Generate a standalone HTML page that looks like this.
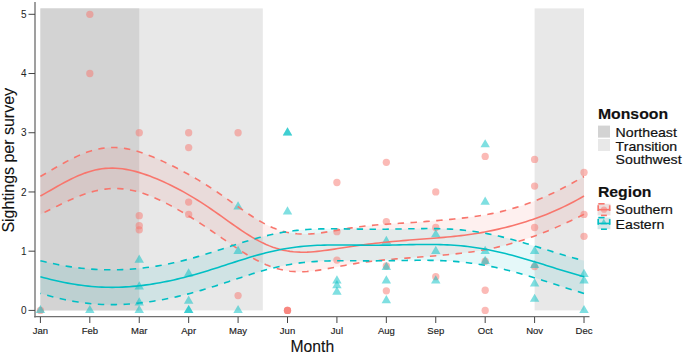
<!DOCTYPE html>
<html><head><meta charset="utf-8"><style>
html,body{margin:0;padding:0;background:#fff;}
svg{display:block;}
</style></head><body>
<svg width="685" height="356" viewBox="0 0 685 356">
<rect x="0" y="0" width="685" height="356" fill="#fff"/>
<rect x="40.40" y="8.38" width="222.39" height="302.02" fill="#E8E8E8"/>
<rect x="40.40" y="8.38" width="98.84" height="302.02" fill="#D3D3D3"/>
<rect x="534.60" y="8.38" width="49.42" height="302.02" fill="#E8E8E8"/>
<path d="M40.40 176.51 L43.82 174.52 L47.24 172.53 L50.66 170.53 L54.08 168.55 L57.49 166.58 L60.91 164.64 L64.33 162.75 L67.75 160.91 L71.17 159.14 L74.59 157.46 L78.01 155.86 L81.43 154.38 L84.85 153.02 L88.26 151.78 L91.68 150.69 L95.10 149.75 L98.52 148.96 L101.94 148.34 L105.36 147.88 L108.78 147.59 L112.20 147.47 L115.62 147.52 L119.03 147.73 L122.45 148.09 L125.87 148.61 L129.29 149.27 L132.71 150.06 L136.13 150.98 L139.55 152.01 L142.97 153.15 L146.38 154.38 L149.80 155.70 L153.22 157.09 L156.64 158.54 L160.06 160.05 L163.48 161.62 L166.90 163.23 L170.32 164.89 L173.74 166.58 L177.15 168.32 L180.57 170.10 L183.99 171.92 L187.41 173.78 L190.83 175.68 L194.25 177.64 L197.67 179.64 L201.09 181.69 L204.51 183.80 L207.92 185.96 L211.34 188.17 L214.76 190.43 L218.18 192.74 L221.60 195.09 L225.02 197.48 L228.44 199.89 L231.86 202.32 L235.28 204.75 L238.69 207.18 L242.11 209.58 L245.53 211.95 L248.95 214.26 L252.37 216.51 L255.79 218.67 L259.21 220.73 L262.63 222.67 L266.05 224.49 L269.46 226.17 L272.88 227.69 L276.30 229.06 L279.72 230.27 L283.14 231.31 L286.56 232.18 L289.98 232.88 L293.40 233.42 L296.82 233.80 L300.23 234.03 L303.65 234.12 L307.07 234.08 L310.49 233.92 L313.91 233.66 L317.33 233.31 L320.75 232.88 L324.17 232.40 L327.58 231.86 L331.00 231.30 L334.42 230.72 L337.84 230.13 L341.26 229.54 L344.68 228.96 L348.10 228.40 L351.52 227.87 L354.94 227.37 L358.35 226.90 L361.77 226.46 L365.19 226.06 L368.61 225.68 L372.03 225.34 L375.45 225.03 L378.87 224.74 L382.29 224.48 L385.71 224.23 L389.12 223.99 L392.54 223.76 L395.96 223.54 L399.38 223.32 L402.80 223.11 L406.22 222.88 L409.64 222.66 L413.06 222.43 L416.48 222.19 L419.89 221.94 L423.31 221.69 L426.73 221.42 L430.15 221.15 L433.57 220.87 L436.99 220.59 L440.41 220.29 L443.83 219.98 L447.25 219.67 L450.66 219.34 L454.08 219.00 L457.50 218.64 L460.92 218.27 L464.34 217.88 L467.76 217.46 L471.18 217.02 L474.60 216.55 L478.02 216.04 L481.43 215.51 L484.85 214.93 L488.27 214.31 L491.69 213.65 L495.11 212.94 L498.53 212.19 L501.95 211.38 L505.37 210.52 L508.78 209.61 L512.20 208.65 L515.62 207.63 L519.04 206.56 L522.46 205.44 L525.88 204.26 L529.30 203.02 L532.72 201.74 L536.14 200.40 L539.55 199.00 L542.97 197.56 L546.39 196.06 L549.81 194.51 L553.23 192.91 L556.65 191.26 L560.07 189.57 L563.49 187.82 L566.91 186.03 L570.32 184.19 L573.74 182.32 L577.16 180.41 L580.58 178.47 L584.00 176.51 L584.00 214.38 L580.58 216.06 L577.16 217.72 L573.74 219.35 L570.32 220.97 L566.91 222.55 L563.49 224.11 L560.07 225.64 L556.65 227.14 L553.23 228.60 L549.81 230.03 L546.39 231.43 L542.97 232.80 L539.55 234.12 L536.14 235.41 L532.72 236.67 L529.30 237.88 L525.88 239.06 L522.46 240.19 L519.04 241.28 L515.62 242.33 L512.20 243.33 L508.78 244.29 L505.37 245.20 L501.95 246.06 L498.53 246.88 L495.11 247.66 L491.69 248.39 L488.27 249.08 L484.85 249.72 L481.43 250.33 L478.02 250.90 L474.60 251.43 L471.18 251.93 L467.76 252.40 L464.34 252.84 L460.92 253.25 L457.50 253.65 L454.08 254.02 L450.66 254.38 L447.25 254.72 L443.83 255.05 L440.41 255.36 L436.99 255.67 L433.57 255.96 L430.15 256.25 L426.73 256.53 L423.31 256.81 L419.89 257.07 L416.48 257.34 L413.06 257.60 L409.64 257.86 L406.22 258.11 L402.80 258.37 L399.38 258.63 L395.96 258.90 L392.54 259.18 L389.12 259.47 L385.71 259.77 L382.29 260.09 L378.87 260.43 L375.45 260.79 L372.03 261.18 L368.61 261.60 L365.19 262.05 L361.77 262.54 L358.35 263.05 L354.94 263.60 L351.52 264.18 L348.10 264.79 L344.68 265.42 L341.26 266.06 L337.84 266.72 L334.42 267.38 L331.00 268.04 L327.58 268.68 L324.17 269.29 L320.75 269.86 L317.33 270.38 L313.91 270.83 L310.49 271.21 L307.07 271.50 L303.65 271.68 L300.23 271.75 L296.82 271.70 L293.40 271.52 L289.98 271.19 L286.56 270.72 L283.14 270.10 L279.72 269.32 L276.30 268.39 L272.88 267.30 L269.46 266.07 L266.05 264.69 L262.63 263.17 L259.21 261.52 L255.79 259.74 L252.37 257.86 L248.95 255.87 L245.53 253.80 L242.11 251.65 L238.69 249.44 L235.28 247.17 L231.86 244.86 L228.44 242.53 L225.02 240.17 L221.60 237.81 L218.18 235.44 L214.76 233.09 L211.34 230.75 L207.92 228.43 L204.51 226.13 L201.09 223.87 L197.67 221.64 L194.25 219.45 L190.83 217.30 L187.41 215.19 L183.99 213.13 L180.57 211.12 L177.15 209.16 L173.74 207.25 L170.32 205.40 L166.90 203.61 L163.48 201.89 L160.06 200.24 L156.64 198.67 L153.22 197.19 L149.80 195.80 L146.38 194.51 L142.97 193.33 L139.55 192.26 L136.13 191.31 L132.71 190.49 L129.29 189.81 L125.87 189.26 L122.45 188.86 L119.03 188.61 L115.62 188.50 L112.20 188.55 L108.78 188.75 L105.36 189.10 L101.94 189.60 L98.52 190.23 L95.10 191.00 L91.68 191.90 L88.26 192.92 L84.85 194.06 L81.43 195.29 L78.01 196.62 L74.59 198.03 L71.17 199.51 L67.75 201.05 L64.33 202.64 L60.91 204.27 L57.49 205.93 L54.08 207.61 L50.66 209.30 L47.24 211.00 L43.82 212.70 L40.40 214.38 Z" fill="#F8766D" fill-opacity="0.11" stroke="none"/>

<path d="M40.40 260.67 L43.82 261.51 L47.24 262.32 L50.66 263.09 L54.08 263.83 L57.49 264.52 L60.91 265.18 L64.33 265.79 L67.75 266.37 L71.17 266.90 L74.59 267.38 L78.01 267.82 L81.43 268.22 L84.85 268.58 L88.26 268.88 L91.68 269.15 L95.10 269.37 L98.52 269.55 L101.94 269.68 L105.36 269.77 L108.78 269.82 L112.20 269.83 L115.62 269.79 L119.03 269.71 L122.45 269.59 L125.87 269.42 L129.29 269.22 L132.71 268.97 L136.13 268.68 L139.55 268.36 L142.97 267.99 L146.38 267.57 L149.80 267.12 L153.22 266.63 L156.64 266.09 L160.06 265.52 L163.48 264.90 L166.90 264.24 L170.32 263.55 L173.74 262.81 L177.15 262.04 L180.57 261.22 L183.99 260.38 L187.41 259.49 L190.83 258.57 L194.25 257.62 L197.67 256.64 L201.09 255.64 L204.51 254.60 L207.92 253.55 L211.34 252.48 L214.76 251.39 L218.18 250.29 L221.60 249.18 L225.02 248.06 L228.44 246.95 L231.86 245.83 L235.28 244.73 L238.69 243.64 L242.11 242.57 L245.53 241.51 L248.95 240.48 L252.37 239.48 L255.79 238.51 L259.21 237.58 L262.63 236.69 L266.05 235.84 L269.46 235.04 L272.88 234.28 L276.30 233.57 L279.72 232.91 L283.14 232.31 L286.56 231.75 L289.98 231.25 L293.40 230.80 L296.82 230.41 L300.23 230.06 L303.65 229.76 L307.07 229.50 L310.49 229.29 L313.91 229.12 L317.33 228.99 L320.75 228.90 L324.17 228.83 L327.58 228.79 L331.00 228.78 L334.42 228.78 L337.84 228.81 L341.26 228.84 L344.68 228.89 L348.10 228.94 L351.52 228.99 L354.94 229.04 L358.35 229.09 L361.77 229.14 L365.19 229.17 L368.61 229.20 L372.03 229.22 L375.45 229.23 L378.87 229.22 L382.29 229.21 L385.71 229.18 L389.12 229.14 L392.54 229.10 L395.96 229.04 L399.38 228.98 L402.80 228.92 L406.22 228.85 L409.64 228.78 L413.06 228.72 L416.48 228.67 L419.89 228.62 L423.31 228.59 L426.73 228.57 L430.15 228.58 L433.57 228.60 L436.99 228.65 L440.41 228.73 L443.83 228.83 L447.25 228.98 L450.66 229.15 L454.08 229.37 L457.50 229.62 L460.92 229.92 L464.34 230.26 L467.76 230.64 L471.18 231.06 L474.60 231.53 L478.02 232.05 L481.43 232.61 L484.85 233.22 L488.27 233.87 L491.69 234.56 L495.11 235.29 L498.53 236.07 L501.95 236.88 L505.37 237.73 L508.78 238.61 L512.20 239.52 L515.62 240.46 L519.04 241.43 L522.46 242.42 L525.88 243.44 L529.30 244.47 L532.72 245.51 L536.14 246.56 L539.55 247.63 L542.97 248.69 L546.39 249.76 L549.81 250.82 L553.23 251.88 L556.65 252.93 L560.07 253.97 L563.49 254.99 L566.91 256.00 L570.32 256.98 L573.74 257.95 L577.16 258.88 L580.58 259.79 L584.00 260.67 L584.00 293.40 L580.58 292.39 L577.16 291.35 L573.74 290.30 L570.32 289.23 L566.91 288.14 L563.49 287.04 L560.07 285.94 L556.65 284.84 L553.23 283.73 L549.81 282.62 L546.39 281.53 L542.97 280.44 L539.55 279.36 L536.14 278.29 L532.72 277.24 L529.30 276.21 L525.88 275.20 L522.46 274.22 L519.04 273.25 L515.62 272.32 L512.20 271.41 L508.78 270.53 L505.37 269.68 L501.95 268.87 L498.53 268.09 L495.11 267.34 L491.69 266.63 L488.27 265.96 L484.85 265.32 L481.43 264.72 L478.02 264.17 L474.60 263.65 L471.18 263.17 L467.76 262.73 L464.34 262.33 L460.92 261.97 L457.50 261.65 L454.08 261.37 L450.66 261.12 L447.25 260.91 L443.83 260.73 L440.41 260.59 L436.99 260.47 L433.57 260.39 L430.15 260.33 L426.73 260.29 L423.31 260.28 L419.89 260.29 L416.48 260.31 L413.06 260.34 L409.64 260.38 L406.22 260.43 L402.80 260.49 L399.38 260.54 L395.96 260.60 L392.54 260.65 L389.12 260.70 L385.71 260.75 L382.29 260.78 L378.87 260.81 L375.45 260.83 L372.03 260.84 L368.61 260.85 L365.19 260.85 L361.77 260.84 L358.35 260.82 L354.94 260.81 L351.52 260.79 L348.10 260.78 L344.68 260.77 L341.26 260.77 L337.84 260.79 L334.42 260.82 L331.00 260.88 L327.58 260.96 L324.17 261.06 L320.75 261.20 L317.33 261.38 L313.91 261.60 L310.49 261.86 L307.07 262.16 L303.65 262.51 L300.23 262.91 L296.82 263.37 L293.40 263.88 L289.98 264.44 L286.56 265.05 L283.14 265.72 L279.72 266.44 L276.30 267.22 L272.88 268.04 L269.46 268.90 L266.05 269.82 L262.63 270.77 L259.21 271.76 L255.79 272.79 L252.37 273.84 L248.95 274.92 L245.53 276.02 L242.11 277.14 L238.69 278.27 L235.28 279.40 L231.86 280.55 L228.44 281.69 L225.02 282.82 L221.60 283.95 L218.18 285.06 L214.76 286.16 L211.34 287.24 L207.92 288.31 L204.51 289.34 L201.09 290.36 L197.67 291.34 L194.25 292.30 L190.83 293.22 L187.41 294.12 L183.99 294.98 L180.57 295.81 L177.15 296.61 L173.74 297.37 L170.32 298.10 L166.90 298.79 L163.48 299.45 L160.06 300.07 L156.64 300.66 L153.22 301.21 L149.80 301.73 L146.38 302.20 L142.97 302.64 L139.55 303.04 L136.13 303.39 L132.71 303.71 L129.29 303.98 L125.87 304.21 L122.45 304.39 L119.03 304.52 L115.62 304.61 L112.20 304.65 L108.78 304.63 L105.36 304.56 L101.94 304.44 L98.52 304.27 L95.10 304.04 L91.68 303.76 L88.26 303.42 L84.85 303.03 L81.43 302.58 L78.01 302.07 L74.59 301.52 L71.17 300.91 L67.75 300.25 L64.33 299.54 L60.91 298.78 L57.49 297.98 L54.08 297.14 L50.66 296.25 L47.24 295.34 L43.82 294.38 L40.40 293.40 Z" fill="#00BFC4" fill-opacity="0.1" stroke="none"/>

<circle cx="40.40" cy="310.40" r="3.65" fill="#F8766D" fill-opacity="0.5"/>
<circle cx="89.82" cy="14.30" r="3.65" fill="#F8766D" fill-opacity="0.5"/>
<circle cx="89.82" cy="73.52" r="3.65" fill="#F8766D" fill-opacity="0.5"/>
<circle cx="139.24" cy="132.74" r="3.65" fill="#F8766D" fill-opacity="0.5"/>
<circle cx="139.24" cy="215.65" r="3.65" fill="#F8766D" fill-opacity="0.5"/>
<circle cx="139.24" cy="225.72" r="3.65" fill="#F8766D" fill-opacity="0.5"/>
<circle cx="139.24" cy="229.86" r="3.65" fill="#F8766D" fill-opacity="0.5"/>
<circle cx="188.66" cy="132.74" r="3.65" fill="#F8766D" fill-opacity="0.5"/>
<circle cx="188.66" cy="147.54" r="3.65" fill="#F8766D" fill-opacity="0.5"/>
<circle cx="188.66" cy="202.03" r="3.65" fill="#F8766D" fill-opacity="0.5"/>
<circle cx="188.66" cy="214.46" r="3.65" fill="#F8766D" fill-opacity="0.5"/>
<circle cx="238.08" cy="132.74" r="3.65" fill="#F8766D" fill-opacity="0.5"/>
<circle cx="238.08" cy="295.59" r="3.65" fill="#F8766D" fill-opacity="0.5"/>
<circle cx="287.50" cy="310.40" r="3.65" fill="#F8766D" fill-opacity="0.5"/>
<circle cx="287.50" cy="310.40" r="3.65" fill="#F8766D" fill-opacity="0.5"/>
<circle cx="287.50" cy="310.40" r="3.65" fill="#F8766D" fill-opacity="0.5"/>
<circle cx="336.92" cy="182.48" r="3.65" fill="#F8766D" fill-opacity="0.5"/>
<circle cx="336.92" cy="231.64" r="3.65" fill="#F8766D" fill-opacity="0.5"/>
<circle cx="336.92" cy="260.06" r="3.65" fill="#F8766D" fill-opacity="0.5"/>
<circle cx="386.34" cy="162.35" r="3.65" fill="#F8766D" fill-opacity="0.5"/>
<circle cx="386.34" cy="221.57" r="3.65" fill="#F8766D" fill-opacity="0.5"/>
<circle cx="386.34" cy="265.98" r="3.65" fill="#F8766D" fill-opacity="0.5"/>
<circle cx="386.34" cy="290.86" r="3.65" fill="#F8766D" fill-opacity="0.5"/>
<circle cx="435.76" cy="191.96" r="3.65" fill="#F8766D" fill-opacity="0.5"/>
<circle cx="435.76" cy="227.49" r="3.65" fill="#F8766D" fill-opacity="0.5"/>
<circle cx="435.76" cy="276.64" r="3.65" fill="#F8766D" fill-opacity="0.5"/>
<circle cx="485.18" cy="156.43" r="3.65" fill="#F8766D" fill-opacity="0.5"/>
<circle cx="485.18" cy="261.25" r="3.65" fill="#F8766D" fill-opacity="0.5"/>
<circle cx="485.18" cy="290.27" r="3.65" fill="#F8766D" fill-opacity="0.5"/>
<circle cx="485.18" cy="310.40" r="3.65" fill="#F8766D" fill-opacity="0.5"/>
<circle cx="534.60" cy="159.39" r="3.65" fill="#F8766D" fill-opacity="0.5"/>
<circle cx="534.60" cy="186.04" r="3.65" fill="#F8766D" fill-opacity="0.5"/>
<circle cx="534.60" cy="227.49" r="3.65" fill="#F8766D" fill-opacity="0.5"/>
<circle cx="534.60" cy="266.58" r="3.65" fill="#F8766D" fill-opacity="0.5"/>
<circle cx="584.02" cy="172.42" r="3.65" fill="#F8766D" fill-opacity="0.5"/>
<circle cx="584.02" cy="214.46" r="3.65" fill="#F8766D" fill-opacity="0.5"/>
<circle cx="584.02" cy="236.37" r="3.65" fill="#F8766D" fill-opacity="0.5"/>
<path d="M40.40 304.96L45.11 313.12L35.69 313.12Z" fill="#00BFC4" fill-opacity="0.5"/>
<path d="M89.82 304.96L94.53 313.12L85.11 313.12Z" fill="#00BFC4" fill-opacity="0.5"/>
<path d="M139.24 254.62L143.95 262.78L134.53 262.78Z" fill="#00BFC4" fill-opacity="0.5"/>
<path d="M139.24 281.27L143.95 289.43L134.53 289.43Z" fill="#00BFC4" fill-opacity="0.5"/>
<path d="M139.24 297.26L143.95 305.42L134.53 305.42Z" fill="#00BFC4" fill-opacity="0.5"/>
<path d="M139.24 304.96L143.95 313.12L134.53 313.12Z" fill="#00BFC4" fill-opacity="0.5"/>
<path d="M188.66 268.24L193.37 276.41L183.95 276.41Z" fill="#00BFC4" fill-opacity="0.5"/>
<path d="M188.66 295.48L193.37 303.65L183.95 303.65Z" fill="#00BFC4" fill-opacity="0.5"/>
<path d="M188.66 304.96L193.37 313.12L183.95 313.12Z" fill="#00BFC4" fill-opacity="0.5"/>
<path d="M188.66 304.96L193.37 313.12L183.95 313.12Z" fill="#00BFC4" fill-opacity="0.5"/>
<path d="M238.08 201.32L242.79 209.49L233.37 209.49Z" fill="#00BFC4" fill-opacity="0.5"/>
<path d="M238.08 245.74L242.79 253.90L233.37 253.90Z" fill="#00BFC4" fill-opacity="0.5"/>
<path d="M238.08 304.96L242.79 313.12L233.37 313.12Z" fill="#00BFC4" fill-opacity="0.5"/>
<path d="M287.50 127.30L292.21 135.46L282.79 135.46Z" fill="#00BFC4" fill-opacity="0.5"/>
<path d="M287.50 127.30L292.21 135.46L282.79 135.46Z" fill="#00BFC4" fill-opacity="0.5"/>
<path d="M287.50 206.24L292.21 214.40L282.79 214.40Z" fill="#00BFC4" fill-opacity="0.5"/>
<path d="M336.92 275.35L341.63 283.51L332.21 283.51Z" fill="#00BFC4" fill-opacity="0.5"/>
<path d="M336.92 280.08L341.63 288.25L332.21 288.25Z" fill="#00BFC4" fill-opacity="0.5"/>
<path d="M336.92 286.60L341.63 294.76L332.21 294.76Z" fill="#00BFC4" fill-opacity="0.5"/>
<path d="M386.34 235.85L391.05 244.01L381.63 244.01Z" fill="#00BFC4" fill-opacity="0.5"/>
<path d="M386.34 261.73L391.05 269.89L381.63 269.89Z" fill="#00BFC4" fill-opacity="0.5"/>
<path d="M386.34 275.35L391.05 283.51L381.63 283.51Z" fill="#00BFC4" fill-opacity="0.5"/>
<path d="M386.34 295.07L391.05 303.23L381.63 303.23Z" fill="#00BFC4" fill-opacity="0.5"/>
<path d="M435.76 229.16L440.47 237.32L431.05 237.32Z" fill="#00BFC4" fill-opacity="0.5"/>
<path d="M435.76 245.74L440.47 253.90L431.05 253.90Z" fill="#00BFC4" fill-opacity="0.5"/>
<path d="M435.76 275.35L440.47 283.51L431.05 283.51Z" fill="#00BFC4" fill-opacity="0.5"/>
<path d="M485.18 139.14L489.89 147.31L480.47 147.31Z" fill="#00BFC4" fill-opacity="0.5"/>
<path d="M485.18 196.58L489.89 204.75L480.47 204.75Z" fill="#00BFC4" fill-opacity="0.5"/>
<path d="M485.18 245.74L489.89 253.90L480.47 253.90Z" fill="#00BFC4" fill-opacity="0.5"/>
<path d="M485.18 255.80L489.89 263.97L480.47 263.97Z" fill="#00BFC4" fill-opacity="0.5"/>
<path d="M534.60 245.74L539.31 253.90L529.89 253.90Z" fill="#00BFC4" fill-opacity="0.5"/>
<path d="M534.60 259.95L539.31 268.11L529.89 268.11Z" fill="#00BFC4" fill-opacity="0.5"/>
<path d="M534.60 278.31L539.31 286.47L529.89 286.47Z" fill="#00BFC4" fill-opacity="0.5"/>
<path d="M534.60 293.71L539.31 301.87L529.89 301.87Z" fill="#00BFC4" fill-opacity="0.5"/>
<path d="M584.02 268.83L588.73 277.00L579.31 277.00Z" fill="#00BFC4" fill-opacity="0.5"/>
<path d="M584.02 275.35L588.73 283.51L579.31 283.51Z" fill="#00BFC4" fill-opacity="0.5"/>
<path d="M584.02 304.96L588.73 313.12L579.31 313.12Z" fill="#00BFC4" fill-opacity="0.5"/>
<path d="M40.40 196.07 L43.82 194.13 L47.24 192.17 L50.66 190.21 L54.08 188.25 L57.49 186.31 L60.91 184.40 L64.33 182.54 L67.75 180.74 L71.17 179.01 L74.59 177.38 L78.01 175.84 L81.43 174.42 L84.85 173.12 L88.26 171.96 L91.68 170.94 L95.10 170.07 L98.52 169.36 L101.94 168.81 L105.36 168.42 L108.78 168.19 L112.20 168.12 L115.62 168.21 L119.03 168.44 L122.45 168.82 L125.87 169.34 L129.29 169.99 L132.71 170.75 L136.13 171.64 L139.55 172.62 L142.97 173.70 L146.38 174.87 L149.80 176.12 L153.22 177.44 L156.64 178.83 L160.06 180.29 L163.48 181.81 L166.90 183.39 L170.32 185.03 L173.74 186.73 L177.15 188.48 L180.57 190.29 L183.99 192.16 L187.41 194.09 L190.83 196.08 L194.25 198.13 L197.67 200.24 L201.09 202.41 L204.51 204.64 L207.92 206.92 L211.34 209.24 L214.76 211.61 L218.18 214.01 L221.60 216.43 L225.02 218.87 L228.44 221.31 L231.86 223.74 L235.28 226.14 L238.69 228.51 L242.11 230.82 L245.53 233.07 L248.95 235.24 L252.37 237.31 L255.79 239.28 L259.21 241.13 L262.63 242.85 L266.05 244.44 L269.46 245.88 L272.88 247.17 L276.30 248.31 L279.72 249.29 L283.14 250.13 L286.56 250.81 L289.98 251.35 L293.40 251.74 L296.82 252.01 L300.23 252.15 L303.65 252.18 L307.07 252.10 L310.49 251.93 L313.91 251.68 L317.33 251.36 L320.75 250.98 L324.17 250.56 L327.58 250.09 L331.00 249.60 L334.42 249.09 L337.84 248.56 L341.26 248.03 L344.68 247.50 L348.10 246.98 L351.52 246.47 L354.94 245.97 L358.35 245.48 L361.77 245.02 L365.19 244.56 L368.61 244.13 L372.03 243.71 L375.45 243.32 L378.87 242.93 L382.29 242.57 L385.71 242.21 L389.12 241.87 L392.54 241.55 L395.96 241.23 L399.38 240.93 L402.80 240.63 L406.22 240.35 L409.64 240.07 L413.06 239.79 L416.48 239.53 L419.89 239.26 L423.31 239.00 L426.73 238.74 L430.15 238.47 L433.57 238.21 L436.99 237.93 L440.41 237.65 L443.83 237.36 L447.25 237.05 L450.66 236.72 L454.08 236.38 L457.50 236.01 L460.92 235.62 L464.34 235.20 L467.76 234.74 L471.18 234.26 L474.60 233.75 L478.02 233.20 L481.43 232.61 L484.85 231.99 L488.27 231.33 L491.69 230.64 L495.11 229.90 L498.53 229.14 L501.95 228.33 L505.37 227.49 L508.78 226.62 L512.20 225.71 L515.62 224.76 L519.04 223.78 L522.46 222.75 L525.88 221.69 L529.30 220.59 L532.72 219.45 L536.14 218.26 L539.55 217.03 L542.97 215.75 L546.39 214.41 L549.81 213.02 L553.23 211.58 L556.65 210.07 L560.07 208.51 L563.49 206.89 L566.91 205.21 L570.32 203.48 L573.74 201.69 L577.16 199.86 L580.58 197.98 L584.00 196.07" fill="none" stroke="#F8766D" stroke-width="1.6"/>
<path d="M40.40 176.51 L43.82 174.52 L47.24 172.53 L50.66 170.53 L54.08 168.55 L57.49 166.58 L60.91 164.64 L64.33 162.75 L67.75 160.91 L71.17 159.14 L74.59 157.46 L78.01 155.86 L81.43 154.38 L84.85 153.02 L88.26 151.78 L91.68 150.69 L95.10 149.75 L98.52 148.96 L101.94 148.34 L105.36 147.88 L108.78 147.59 L112.20 147.47 L115.62 147.52 L119.03 147.73 L122.45 148.09 L125.87 148.61 L129.29 149.27 L132.71 150.06 L136.13 150.98 L139.55 152.01 L142.97 153.15 L146.38 154.38 L149.80 155.70 L153.22 157.09 L156.64 158.54 L160.06 160.05 L163.48 161.62 L166.90 163.23 L170.32 164.89 L173.74 166.58 L177.15 168.32 L180.57 170.10 L183.99 171.92 L187.41 173.78 L190.83 175.68 L194.25 177.64 L197.67 179.64 L201.09 181.69 L204.51 183.80 L207.92 185.96 L211.34 188.17 L214.76 190.43 L218.18 192.74 L221.60 195.09 L225.02 197.48 L228.44 199.89 L231.86 202.32 L235.28 204.75 L238.69 207.18 L242.11 209.58 L245.53 211.95 L248.95 214.26 L252.37 216.51 L255.79 218.67 L259.21 220.73 L262.63 222.67 L266.05 224.49 L269.46 226.17 L272.88 227.69 L276.30 229.06 L279.72 230.27 L283.14 231.31 L286.56 232.18 L289.98 232.88 L293.40 233.42 L296.82 233.80 L300.23 234.03 L303.65 234.12 L307.07 234.08 L310.49 233.92 L313.91 233.66 L317.33 233.31 L320.75 232.88 L324.17 232.40 L327.58 231.86 L331.00 231.30 L334.42 230.72 L337.84 230.13 L341.26 229.54 L344.68 228.96 L348.10 228.40 L351.52 227.87 L354.94 227.37 L358.35 226.90 L361.77 226.46 L365.19 226.06 L368.61 225.68 L372.03 225.34 L375.45 225.03 L378.87 224.74 L382.29 224.48 L385.71 224.23 L389.12 223.99 L392.54 223.76 L395.96 223.54 L399.38 223.32 L402.80 223.11 L406.22 222.88 L409.64 222.66 L413.06 222.43 L416.48 222.19 L419.89 221.94 L423.31 221.69 L426.73 221.42 L430.15 221.15 L433.57 220.87 L436.99 220.59 L440.41 220.29 L443.83 219.98 L447.25 219.67 L450.66 219.34 L454.08 219.00 L457.50 218.64 L460.92 218.27 L464.34 217.88 L467.76 217.46 L471.18 217.02 L474.60 216.55 L478.02 216.04 L481.43 215.51 L484.85 214.93 L488.27 214.31 L491.69 213.65 L495.11 212.94 L498.53 212.19 L501.95 211.38 L505.37 210.52 L508.78 209.61 L512.20 208.65 L515.62 207.63 L519.04 206.56 L522.46 205.44 L525.88 204.26 L529.30 203.02 L532.72 201.74 L536.14 200.40 L539.55 199.00 L542.97 197.56 L546.39 196.06 L549.81 194.51 L553.23 192.91 L556.65 191.26 L560.07 189.57 L563.49 187.82 L566.91 186.03 L570.32 184.19 L573.74 182.32 L577.16 180.41 L580.58 178.47 L584.00 176.51" fill="none" stroke="#F8766D" stroke-width="1.6" stroke-dasharray="6.44 6.44" stroke-dashoffset="0"/>
<path d="M584.00 214.38 L580.58 216.06 L577.16 217.72 L573.74 219.35 L570.32 220.97 L566.91 222.55 L563.49 224.11 L560.07 225.64 L556.65 227.14 L553.23 228.60 L549.81 230.03 L546.39 231.43 L542.97 232.80 L539.55 234.12 L536.14 235.41 L532.72 236.67 L529.30 237.88 L525.88 239.06 L522.46 240.19 L519.04 241.28 L515.62 242.33 L512.20 243.33 L508.78 244.29 L505.37 245.20 L501.95 246.06 L498.53 246.88 L495.11 247.66 L491.69 248.39 L488.27 249.08 L484.85 249.72 L481.43 250.33 L478.02 250.90 L474.60 251.43 L471.18 251.93 L467.76 252.40 L464.34 252.84 L460.92 253.25 L457.50 253.65 L454.08 254.02 L450.66 254.38 L447.25 254.72 L443.83 255.05 L440.41 255.36 L436.99 255.67 L433.57 255.96 L430.15 256.25 L426.73 256.53 L423.31 256.81 L419.89 257.07 L416.48 257.34 L413.06 257.60 L409.64 257.86 L406.22 258.11 L402.80 258.37 L399.38 258.63 L395.96 258.90 L392.54 259.18 L389.12 259.47 L385.71 259.77 L382.29 260.09 L378.87 260.43 L375.45 260.79 L372.03 261.18 L368.61 261.60 L365.19 262.05 L361.77 262.54 L358.35 263.05 L354.94 263.60 L351.52 264.18 L348.10 264.79 L344.68 265.42 L341.26 266.06 L337.84 266.72 L334.42 267.38 L331.00 268.04 L327.58 268.68 L324.17 269.29 L320.75 269.86 L317.33 270.38 L313.91 270.83 L310.49 271.21 L307.07 271.50 L303.65 271.68 L300.23 271.75 L296.82 271.70 L293.40 271.52 L289.98 271.19 L286.56 270.72 L283.14 270.10 L279.72 269.32 L276.30 268.39 L272.88 267.30 L269.46 266.07 L266.05 264.69 L262.63 263.17 L259.21 261.52 L255.79 259.74 L252.37 257.86 L248.95 255.87 L245.53 253.80 L242.11 251.65 L238.69 249.44 L235.28 247.17 L231.86 244.86 L228.44 242.53 L225.02 240.17 L221.60 237.81 L218.18 235.44 L214.76 233.09 L211.34 230.75 L207.92 228.43 L204.51 226.13 L201.09 223.87 L197.67 221.64 L194.25 219.45 L190.83 217.30 L187.41 215.19 L183.99 213.13 L180.57 211.12 L177.15 209.16 L173.74 207.25 L170.32 205.40 L166.90 203.61 L163.48 201.89 L160.06 200.24 L156.64 198.67 L153.22 197.19 L149.80 195.80 L146.38 194.51 L142.97 193.33 L139.55 192.26 L136.13 191.31 L132.71 190.49 L129.29 189.81 L125.87 189.26 L122.45 188.86 L119.03 188.61 L115.62 188.50 L112.20 188.55 L108.78 188.75 L105.36 189.10 L101.94 189.60 L98.52 190.23 L95.10 191.00 L91.68 191.90 L88.26 192.92 L84.85 194.06 L81.43 195.29 L78.01 196.62 L74.59 198.03 L71.17 199.51 L67.75 201.05 L64.33 202.64 L60.91 204.27 L57.49 205.93 L54.08 207.61 L50.66 209.30 L47.24 211.00 L43.82 212.70 L40.40 214.38" fill="none" stroke="#F8766D" stroke-width="1.6" stroke-dasharray="6.44 6.44" stroke-dashoffset="0"/>

<path d="M40.40 276.77 L43.82 277.69 L47.24 278.57 L50.66 279.43 L54.08 280.25 L57.49 281.04 L60.91 281.78 L64.33 282.49 L67.75 283.15 L71.17 283.76 L74.59 284.33 L78.01 284.85 L81.43 285.33 L84.85 285.75 L88.26 286.13 L91.68 286.45 L95.10 286.73 L98.52 286.95 L101.94 287.12 L105.36 287.24 L108.78 287.31 L112.20 287.33 L115.62 287.30 L119.03 287.22 L122.45 287.09 L125.87 286.91 L129.29 286.69 L132.71 286.42 L136.13 286.11 L139.55 285.75 L142.97 285.35 L146.38 284.90 L149.80 284.42 L153.22 283.89 L156.64 283.32 L160.06 282.72 L163.48 282.07 L166.90 281.39 L170.32 280.67 L173.74 279.92 L177.15 279.13 L180.57 278.30 L183.99 277.44 L187.41 276.56 L190.83 275.64 L194.25 274.69 L197.67 273.71 L201.09 272.71 L204.51 271.69 L207.92 270.64 L211.34 269.58 L214.76 268.50 L218.18 267.41 L221.60 266.31 L225.02 265.20 L228.44 264.09 L231.86 262.99 L235.28 261.88 L238.69 260.79 L242.11 259.71 L245.53 258.64 L248.95 257.60 L252.37 256.58 L255.79 255.59 L259.21 254.63 L262.63 253.70 L266.05 252.82 L269.46 251.98 L272.88 251.18 L276.30 250.43 L279.72 249.73 L283.14 249.07 L286.56 248.47 L289.98 247.93 L293.40 247.43 L296.82 246.98 L300.23 246.59 L303.65 246.24 L307.07 245.95 L310.49 245.69 L313.91 245.48 L317.33 245.32 L320.75 245.18 L324.17 245.09 L327.58 245.02 L331.00 244.98 L334.42 244.96 L337.84 244.96 L341.26 244.97 L344.68 245.00 L348.10 245.03 L351.52 245.07 L354.94 245.11 L358.35 245.14 L361.77 245.17 L365.19 245.20 L368.61 245.21 L372.03 245.22 L375.45 245.22 L378.87 245.20 L382.29 245.17 L385.71 245.13 L389.12 245.09 L392.54 245.03 L395.96 244.96 L399.38 244.89 L402.80 244.82 L406.22 244.74 L409.64 244.67 L413.06 244.60 L416.48 244.54 L419.89 244.48 L423.31 244.45 L426.73 244.43 L430.15 244.43 L433.57 244.45 L436.99 244.50 L440.41 244.58 L443.83 244.69 L447.25 244.84 L450.66 245.02 L454.08 245.24 L457.50 245.50 L460.92 245.80 L464.34 246.14 L467.76 246.52 L471.18 246.95 L474.60 247.43 L478.02 247.94 L481.43 248.50 L484.85 249.10 L488.27 249.75 L491.69 250.43 L495.11 251.16 L498.53 251.92 L501.95 252.72 L505.37 253.55 L508.78 254.41 L512.20 255.31 L515.62 256.23 L519.04 257.18 L522.46 258.16 L525.88 259.15 L529.30 260.17 L532.72 261.20 L536.14 262.24 L539.55 263.30 L542.97 264.36 L546.39 265.43 L549.81 266.50 L553.23 267.57 L556.65 268.64 L560.07 269.71 L563.49 270.76 L566.91 271.81 L570.32 272.84 L573.74 273.85 L577.16 274.85 L580.58 275.82 L584.00 276.77" fill="none" stroke="#00BFC4" stroke-width="1.6"/>
<path d="M40.40 260.67 L43.82 261.51 L47.24 262.32 L50.66 263.09 L54.08 263.83 L57.49 264.52 L60.91 265.18 L64.33 265.79 L67.75 266.37 L71.17 266.90 L74.59 267.38 L78.01 267.82 L81.43 268.22 L84.85 268.58 L88.26 268.88 L91.68 269.15 L95.10 269.37 L98.52 269.55 L101.94 269.68 L105.36 269.77 L108.78 269.82 L112.20 269.83 L115.62 269.79 L119.03 269.71 L122.45 269.59 L125.87 269.42 L129.29 269.22 L132.71 268.97 L136.13 268.68 L139.55 268.36 L142.97 267.99 L146.38 267.57 L149.80 267.12 L153.22 266.63 L156.64 266.09 L160.06 265.52 L163.48 264.90 L166.90 264.24 L170.32 263.55 L173.74 262.81 L177.15 262.04 L180.57 261.22 L183.99 260.38 L187.41 259.49 L190.83 258.57 L194.25 257.62 L197.67 256.64 L201.09 255.64 L204.51 254.60 L207.92 253.55 L211.34 252.48 L214.76 251.39 L218.18 250.29 L221.60 249.18 L225.02 248.06 L228.44 246.95 L231.86 245.83 L235.28 244.73 L238.69 243.64 L242.11 242.57 L245.53 241.51 L248.95 240.48 L252.37 239.48 L255.79 238.51 L259.21 237.58 L262.63 236.69 L266.05 235.84 L269.46 235.04 L272.88 234.28 L276.30 233.57 L279.72 232.91 L283.14 232.31 L286.56 231.75 L289.98 231.25 L293.40 230.80 L296.82 230.41 L300.23 230.06 L303.65 229.76 L307.07 229.50 L310.49 229.29 L313.91 229.12 L317.33 228.99 L320.75 228.90 L324.17 228.83 L327.58 228.79 L331.00 228.78 L334.42 228.78 L337.84 228.81 L341.26 228.84 L344.68 228.89 L348.10 228.94 L351.52 228.99 L354.94 229.04 L358.35 229.09 L361.77 229.14 L365.19 229.17 L368.61 229.20 L372.03 229.22 L375.45 229.23 L378.87 229.22 L382.29 229.21 L385.71 229.18 L389.12 229.14 L392.54 229.10 L395.96 229.04 L399.38 228.98 L402.80 228.92 L406.22 228.85 L409.64 228.78 L413.06 228.72 L416.48 228.67 L419.89 228.62 L423.31 228.59 L426.73 228.57 L430.15 228.58 L433.57 228.60 L436.99 228.65 L440.41 228.73 L443.83 228.83 L447.25 228.98 L450.66 229.15 L454.08 229.37 L457.50 229.62 L460.92 229.92 L464.34 230.26 L467.76 230.64 L471.18 231.06 L474.60 231.53 L478.02 232.05 L481.43 232.61 L484.85 233.22 L488.27 233.87 L491.69 234.56 L495.11 235.29 L498.53 236.07 L501.95 236.88 L505.37 237.73 L508.78 238.61 L512.20 239.52 L515.62 240.46 L519.04 241.43 L522.46 242.42 L525.88 243.44 L529.30 244.47 L532.72 245.51 L536.14 246.56 L539.55 247.63 L542.97 248.69 L546.39 249.76 L549.81 250.82 L553.23 251.88 L556.65 252.93 L560.07 253.97 L563.49 254.99 L566.91 256.00 L570.32 256.98 L573.74 257.95 L577.16 258.88 L580.58 259.79 L584.00 260.67" fill="none" stroke="#00BFC4" stroke-width="1.6" stroke-dasharray="6.44 6.44" stroke-dashoffset="0"/>
<path d="M584.00 293.40 L580.58 292.39 L577.16 291.35 L573.74 290.30 L570.32 289.23 L566.91 288.14 L563.49 287.04 L560.07 285.94 L556.65 284.84 L553.23 283.73 L549.81 282.62 L546.39 281.53 L542.97 280.44 L539.55 279.36 L536.14 278.29 L532.72 277.24 L529.30 276.21 L525.88 275.20 L522.46 274.22 L519.04 273.25 L515.62 272.32 L512.20 271.41 L508.78 270.53 L505.37 269.68 L501.95 268.87 L498.53 268.09 L495.11 267.34 L491.69 266.63 L488.27 265.96 L484.85 265.32 L481.43 264.72 L478.02 264.17 L474.60 263.65 L471.18 263.17 L467.76 262.73 L464.34 262.33 L460.92 261.97 L457.50 261.65 L454.08 261.37 L450.66 261.12 L447.25 260.91 L443.83 260.73 L440.41 260.59 L436.99 260.47 L433.57 260.39 L430.15 260.33 L426.73 260.29 L423.31 260.28 L419.89 260.29 L416.48 260.31 L413.06 260.34 L409.64 260.38 L406.22 260.43 L402.80 260.49 L399.38 260.54 L395.96 260.60 L392.54 260.65 L389.12 260.70 L385.71 260.75 L382.29 260.78 L378.87 260.81 L375.45 260.83 L372.03 260.84 L368.61 260.85 L365.19 260.85 L361.77 260.84 L358.35 260.82 L354.94 260.81 L351.52 260.79 L348.10 260.78 L344.68 260.77 L341.26 260.77 L337.84 260.79 L334.42 260.82 L331.00 260.88 L327.58 260.96 L324.17 261.06 L320.75 261.20 L317.33 261.38 L313.91 261.60 L310.49 261.86 L307.07 262.16 L303.65 262.51 L300.23 262.91 L296.82 263.37 L293.40 263.88 L289.98 264.44 L286.56 265.05 L283.14 265.72 L279.72 266.44 L276.30 267.22 L272.88 268.04 L269.46 268.90 L266.05 269.82 L262.63 270.77 L259.21 271.76 L255.79 272.79 L252.37 273.84 L248.95 274.92 L245.53 276.02 L242.11 277.14 L238.69 278.27 L235.28 279.40 L231.86 280.55 L228.44 281.69 L225.02 282.82 L221.60 283.95 L218.18 285.06 L214.76 286.16 L211.34 287.24 L207.92 288.31 L204.51 289.34 L201.09 290.36 L197.67 291.34 L194.25 292.30 L190.83 293.22 L187.41 294.12 L183.99 294.98 L180.57 295.81 L177.15 296.61 L173.74 297.37 L170.32 298.10 L166.90 298.79 L163.48 299.45 L160.06 300.07 L156.64 300.66 L153.22 301.21 L149.80 301.73 L146.38 302.20 L142.97 302.64 L139.55 303.04 L136.13 303.39 L132.71 303.71 L129.29 303.98 L125.87 304.21 L122.45 304.39 L119.03 304.52 L115.62 304.61 L112.20 304.65 L108.78 304.63 L105.36 304.56 L101.94 304.44 L98.52 304.27 L95.10 304.04 L91.68 303.76 L88.26 303.42 L84.85 303.03 L81.43 302.58 L78.01 302.07 L74.59 301.52 L71.17 300.91 L67.75 300.25 L64.33 299.54 L60.91 298.78 L57.49 297.98 L54.08 297.14 L50.66 296.25 L47.24 295.34 L43.82 294.38 L40.40 293.40" fill="none" stroke="#00BFC4" stroke-width="1.6" stroke-dasharray="6.44 6.44" stroke-dashoffset="0"/>

<line x1="35" y1="2" x2="35" y2="317.5" stroke="#7F7F7F" stroke-width="1.5"/>
<line x1="34.25" y1="316.55" x2="589.5" y2="316.55" stroke="#707070" stroke-width="1.2"/>
<line x1="28.5" y1="310.40" x2="35" y2="310.40" stroke="#444" stroke-width="1"/>
<text transform="translate(26.60 314.00)" font-size="10" text-anchor="end" fill="#222" stroke="#222" stroke-width="0" font-family="Liberation Sans, sans-serif">0</text>
<line x1="28.5" y1="251.18" x2="35" y2="251.18" stroke="#444" stroke-width="1"/>
<text transform="translate(26.60 254.78)" font-size="10" text-anchor="end" fill="#222" stroke="#222" stroke-width="0" font-family="Liberation Sans, sans-serif">1</text>
<line x1="28.5" y1="191.96" x2="35" y2="191.96" stroke="#444" stroke-width="1"/>
<text transform="translate(26.60 195.56)" font-size="10" text-anchor="end" fill="#222" stroke="#222" stroke-width="0" font-family="Liberation Sans, sans-serif">2</text>
<line x1="28.5" y1="132.74" x2="35" y2="132.74" stroke="#444" stroke-width="1"/>
<text transform="translate(26.60 136.34)" font-size="10" text-anchor="end" fill="#222" stroke="#222" stroke-width="0" font-family="Liberation Sans, sans-serif">3</text>
<line x1="28.5" y1="73.52" x2="35" y2="73.52" stroke="#444" stroke-width="1"/>
<text transform="translate(26.60 77.12)" font-size="10" text-anchor="end" fill="#222" stroke="#222" stroke-width="0" font-family="Liberation Sans, sans-serif">4</text>
<line x1="28.5" y1="14.30" x2="35" y2="14.30" stroke="#444" stroke-width="1"/>
<text transform="translate(26.60 17.90)" font-size="10" text-anchor="end" fill="#222" stroke="#222" stroke-width="0" font-family="Liberation Sans, sans-serif">5</text>
<line x1="40.40" y1="317" x2="40.40" y2="323" stroke="#444" stroke-width="1"/>
<text transform="translate(40.40 333.80)" font-size="9.5" text-anchor="middle" fill="#222" stroke="#222" stroke-width="0.15" font-family="Liberation Sans, sans-serif">Jan</text>
<line x1="89.82" y1="317" x2="89.82" y2="323" stroke="#444" stroke-width="1"/>
<text transform="translate(89.82 333.80)" font-size="9.5" text-anchor="middle" fill="#222" stroke="#222" stroke-width="0.15" font-family="Liberation Sans, sans-serif">Feb</text>
<line x1="139.24" y1="317" x2="139.24" y2="323" stroke="#444" stroke-width="1"/>
<text transform="translate(139.24 333.80)" font-size="9.5" text-anchor="middle" fill="#222" stroke="#222" stroke-width="0.15" font-family="Liberation Sans, sans-serif">Mar</text>
<line x1="188.66" y1="317" x2="188.66" y2="323" stroke="#444" stroke-width="1"/>
<text transform="translate(188.66 333.80)" font-size="9.5" text-anchor="middle" fill="#222" stroke="#222" stroke-width="0.15" font-family="Liberation Sans, sans-serif">Apr</text>
<line x1="238.08" y1="317" x2="238.08" y2="323" stroke="#444" stroke-width="1"/>
<text transform="translate(238.08 333.80)" font-size="9.5" text-anchor="middle" fill="#222" stroke="#222" stroke-width="0.15" font-family="Liberation Sans, sans-serif">May</text>
<line x1="287.50" y1="317" x2="287.50" y2="323" stroke="#444" stroke-width="1"/>
<text transform="translate(287.50 333.80)" font-size="9.5" text-anchor="middle" fill="#222" stroke="#222" stroke-width="0.15" font-family="Liberation Sans, sans-serif">Jun</text>
<line x1="336.92" y1="317" x2="336.92" y2="323" stroke="#444" stroke-width="1"/>
<text transform="translate(336.92 333.80)" font-size="9.5" text-anchor="middle" fill="#222" stroke="#222" stroke-width="0.15" font-family="Liberation Sans, sans-serif">Jul</text>
<line x1="386.34" y1="317" x2="386.34" y2="323" stroke="#444" stroke-width="1"/>
<text transform="translate(386.34 333.80)" font-size="9.5" text-anchor="middle" fill="#222" stroke="#222" stroke-width="0.15" font-family="Liberation Sans, sans-serif">Aug</text>
<line x1="435.76" y1="317" x2="435.76" y2="323" stroke="#444" stroke-width="1"/>
<text transform="translate(435.76 333.80)" font-size="9.5" text-anchor="middle" fill="#222" stroke="#222" stroke-width="0.15" font-family="Liberation Sans, sans-serif">Sep</text>
<line x1="485.18" y1="317" x2="485.18" y2="323" stroke="#444" stroke-width="1"/>
<text transform="translate(485.18 333.80)" font-size="9.5" text-anchor="middle" fill="#222" stroke="#222" stroke-width="0.15" font-family="Liberation Sans, sans-serif">Oct</text>
<line x1="534.60" y1="317" x2="534.60" y2="323" stroke="#444" stroke-width="1"/>
<text transform="translate(534.60 333.80)" font-size="9.5" text-anchor="middle" fill="#222" stroke="#222" stroke-width="0.15" font-family="Liberation Sans, sans-serif">Nov</text>
<line x1="584.02" y1="317" x2="584.02" y2="323" stroke="#444" stroke-width="1"/>
<text transform="translate(584.02 333.80)" font-size="9.5" text-anchor="middle" fill="#222" stroke="#222" stroke-width="0.15" font-family="Liberation Sans, sans-serif">Dec</text>
<text transform="translate(312.30 351.90)" font-size="15.7" text-anchor="middle" fill="#111" stroke="#111" stroke-width="0.1" font-family="Liberation Sans, sans-serif">Month</text>
<text transform="translate(14.20 160.30) rotate(-90) scale(1.017 1)" font-size="15.7" text-anchor="middle" fill="#111" stroke="#111" stroke-width="0.1" font-family="Liberation Sans, sans-serif">Sightings per survey</text>
<text transform="translate(597.90 118.90) scale(1.04 1)" font-size="15.2" text-anchor="start" fill="#111" stroke="#111" stroke-width="0.15" font-weight="bold" font-family="Liberation Sans, sans-serif">Monsoon</text>
<rect x="598" y="125.6" width="12" height="12" fill="#D3D3D3"/>
<rect x="598" y="139" width="12" height="12" fill="#E8E8E8"/>
<text transform="translate(615.60 136.80) scale(1.04 1)" font-size="13.6" text-anchor="start" fill="#111" stroke="#111" stroke-width="0.2" font-family="Liberation Sans, sans-serif">Northeast</text>
<text transform="translate(615.60 151.00) scale(1.04 1)" font-size="13.6" text-anchor="start" fill="#111" stroke="#111" stroke-width="0.2" font-family="Liberation Sans, sans-serif">Transition</text>
<text transform="translate(615.60 164.10) scale(1.04 1)" font-size="13.6" text-anchor="start" fill="#111" stroke="#111" stroke-width="0.2" font-family="Liberation Sans, sans-serif">Southwest</text>
<text transform="translate(597.90 197.00) scale(1.04 1)" font-size="15.2" text-anchor="start" fill="#111" stroke="#111" stroke-width="0.15" font-weight="bold" font-family="Liberation Sans, sans-serif">Region</text>
<rect x="597.6" y="203.80" width="12.80" height="11.6" fill="#ebebeb"/><rect x="597.6" y="203.80" width="12.80" height="11.6" fill="#F8766D" fill-opacity="0.1"/><circle cx="604.0" cy="209.65" r="3.1" fill="#F8766D" fill-opacity="0.5"/><line x1="597.9" y1="209.65" x2="610.1" y2="209.65" stroke="#F8766D" stroke-width="1.6"/><line x1="598.3" y1="203.80" x2="604.6" y2="203.80" stroke="#F8766D" stroke-width="1.6"/><line x1="598.2" y1="205.30" x2="598.2" y2="211.00" stroke="#F8766D" stroke-width="1.6"/><line x1="609.7" y1="205.30" x2="609.7" y2="211.00" stroke="#F8766D" stroke-width="1.6"/><line x1="601.0" y1="215.40" x2="606.9" y2="215.40" stroke="#F8766D" stroke-width="1.6"/>
<rect x="597.6" y="217.60" width="12.80" height="11.6" fill="#ebebeb"/><rect x="597.6" y="217.60" width="12.80" height="11.6" fill="#00BFC4" fill-opacity="0.1"/><path d="M603.8 218.74L607.10 224.46L600.50 224.46Z" fill="#00BFC4" fill-opacity="0.55"/><line x1="597.9" y1="223.45" x2="610.1" y2="223.45" stroke="#00BFC4" stroke-width="1.6"/><line x1="598.3" y1="217.60" x2="604.6" y2="217.60" stroke="#00BFC4" stroke-width="1.6"/><line x1="598.2" y1="219.10" x2="598.2" y2="224.80" stroke="#00BFC4" stroke-width="1.6"/><line x1="609.7" y1="219.10" x2="609.7" y2="224.80" stroke="#00BFC4" stroke-width="1.6"/><line x1="601.0" y1="229.20" x2="606.9" y2="229.20" stroke="#00BFC4" stroke-width="1.6"/>
<text transform="translate(615.60 214.30) scale(1.04 1)" font-size="13.6" text-anchor="start" fill="#111" stroke="#111" stroke-width="0.2" font-family="Liberation Sans, sans-serif">Southern</text>
<text transform="translate(615.60 228.60) scale(1.04 1)" font-size="13.6" text-anchor="start" fill="#111" stroke="#111" stroke-width="0.2" font-family="Liberation Sans, sans-serif">Eastern</text>
</svg>
</body></html>
